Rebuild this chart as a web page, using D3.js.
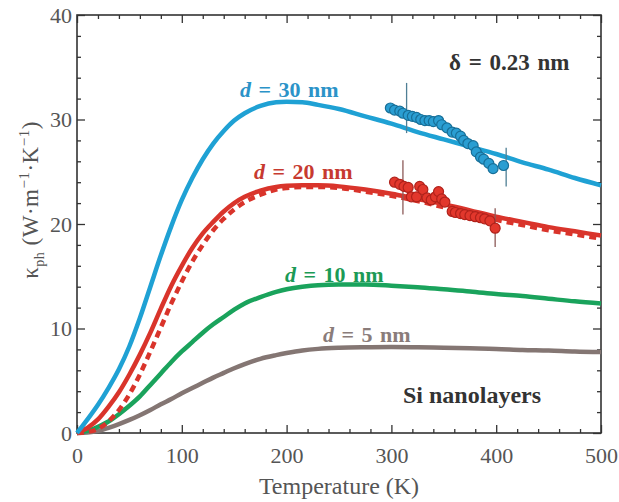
<!DOCTYPE html>
<html>
<head>
<meta charset="utf-8">
<script src="https://cdn.jsdelivr.net/npm/d3@7"></script>
<style>
  body { margin: 0; background: #fff; }
  svg { display: block; }
  text { font-family: "Liberation Serif", "Times New Roman", serif; }
</style>
</head>
<body>
<script>
// temperature grid shared by the model curves (K)
let temps = [0, 10, 20, 30, 40, 50, 60, 70, 80, 90, 100, 110, 120, 130, 140, 150, 160, 175, 190, 200,
    215, 230, 250, 275, 300, 325, 350, 375, 400, 425, 450, 475, 500];

// model curves, kappa_ph (W/m/K)
let kappa30 = [0, 1.3, 2.7, 4.3, 6.1, 8.3, 11.0, 14.0, 17.0, 19.8, 22.3, 24.4, 26.2, 27.7, 28.9, 29.9, 30.6, 31.3, 31.65, 31.7,
    31.65, 31.4, 31.0, 30.3, 29.6, 28.8, 28.1, 27.4, 26.7, 25.9, 25.2, 24.4, 23.7];
let kappa20 = [0, 0.5, 1.3, 2.5, 3.9, 5.6, 7.5, 9.6, 11.9, 14.1, 16.0, 17.7, 19.1, 20.2, 21.2, 22.0, 22.6, 23.2, 23.55, 23.65,
    23.7, 23.7, 23.6, 23.3, 22.9, 22.4, 21.9, 21.3, 20.7, 20.2, 19.7, 19.3, 18.9];
let kappa20dash = [0, 0.1, 0.4, 1.1, 2.2, 3.7, 5.6, 7.8, 10.1, 12.4, 14.5, 16.4, 18.0, 19.4, 20.5, 21.4, 22.1, 22.8, 23.3, 23.45,
    23.55, 23.55, 23.45, 23.1, 22.7, 22.2, 21.6, 21.0, 20.4, 19.9, 19.4, 19.0, 18.6];
let kappa10 = [0, 0.2, 0.6, 1.1, 1.8, 2.6, 3.5, 4.6, 5.7, 6.8, 7.8, 8.7, 9.6, 10.4, 11.1, 11.8, 12.4, 13.0, 13.5, 13.75,
    14.0, 14.15, 14.2, 14.2, 14.1, 13.95, 13.75, 13.55, 13.3, 13.1, 12.85, 12.6, 12.4];
let kappa5 = [0, 0.05, 0.2, 0.5, 0.85, 1.25, 1.7, 2.2, 2.75, 3.25, 3.8, 4.3, 4.8, 5.3, 5.75, 6.2, 6.6, 7.1, 7.45, 7.65,
    7.9, 8.05, 8.15, 8.2, 8.22, 8.2, 8.15, 8.1, 8.05, 7.95, 7.9, 7.8, 7.75];

// measured points
let blueT = [299, 303, 308, 311, 316, 320, 324, 328, 332, 336, 340, 345, 348, 353, 358, 362, 366, 369, 373, 378, 381, 385, 388, 393, 397, 407];
let blueK = [31.1, 30.9, 30.8, 30.6, 30.4, 30.3, 30.2, 30.0, 29.9, 29.9, 29.8, 29.9, 29.5, 29.2, 28.8, 28.7, 28.4, 28.0, 27.7, 27.5, 26.9, 26.4, 26.2, 25.8, 25.3, 25.6];
let redT = [303, 308, 312, 316, 319, 324, 327, 330, 334, 338, 342, 345, 348, 351, 358, 361, 366, 370, 375, 380, 385, 389, 394, 399];
let redK = [24.0, 23.8, 23.6, 23.5, 22.6, 22.6, 23.6, 23.3, 22.5, 22.3, 22.6, 23.1, 22.4, 22.1, 21.2, 21.1, 21.0, 20.9, 20.8, 20.7, 20.6, 20.5, 20.3, 19.6];

// error bars [T, low, high]
let blueErr = [[314.5, 28.7, 33.5], [409.5, 23.6, 27.3]];
let redErr = [[311, 20.9, 26.1], [399, 17.8, 21.5]];

// axis ticks
let xMajor = [0, 100, 200, 300, 400, 500];
let yMajor = [0, 10, 20, 30, 40];

let width = 619, height = 502;
let margin = {left: 77, right: 18, top: 15, bottom: 69};

let svg = d3.select("body").append("svg")
    .attr("width", width)
    .attr("height", height);

let x = d3.scaleLinear().domain([0, 500]).range([margin.left, width - margin.right]);
let y = d3.scaleLinear().domain([0, 40]).range([height - margin.bottom, margin.top]);

let xMinor = d3.range(0, 501, 20).filter(v => v % 100 !== 0);
let yMinor = d3.range(0, 41, 2).filter(v => v % 10 !== 0);

/////////////// axes & frame //////////////////
function styleAxis(g) {
    g.select(".domain").remove();
    g.selectAll("line").attr("stroke", "#333").attr("stroke-width", 1.3);
    g.selectAll("text")
        .attr("fill", "#555")
        .style("font-size", "22px");
}

let x0 = x.range()[0], x1 = x.range()[1], y0 = y.range()[0], y1 = y.range()[1];

svg.append("g").attr("transform", "translate(0," + y0 + ")")
    .call(d3.axisBottom(x).tickValues(xMajor).tickSize(-8).tickPadding(14).tickFormat(d3.format("d")))
    .call(styleAxis);
svg.append("g").attr("transform", "translate(0," + y0 + ")")
    .call(d3.axisBottom(x).tickValues(xMinor).tickSize(-4).tickFormat(""))
    .call(styleAxis);
svg.append("g").attr("transform", "translate(0," + y1 + ")")
    .call(d3.axisTop(x).tickValues(xMajor).tickSize(-8).tickFormat(""))
    .call(styleAxis);
svg.append("g").attr("transform", "translate(0," + y1 + ")")
    .call(d3.axisTop(x).tickValues(xMinor).tickSize(-4).tickFormat(""))
    .call(styleAxis);

svg.append("g").attr("transform", "translate(" + x0 + ",0)")
    .call(d3.axisLeft(y).tickValues(yMajor).tickSize(-8).tickPadding(5).tickFormat(d3.format("d")))
    .call(styleAxis);
svg.append("g").attr("transform", "translate(" + x0 + ",0)")
    .call(d3.axisLeft(y).tickValues(yMinor).tickSize(-4).tickFormat(""))
    .call(styleAxis);
svg.append("g").attr("transform", "translate(" + x1 + ",0)")
    .call(d3.axisRight(y).tickValues(yMajor).tickSize(-8).tickFormat(""))
    .call(styleAxis);
svg.append("g").attr("transform", "translate(" + x1 + ",0)")
    .call(d3.axisRight(y).tickValues(yMinor).tickSize(-4).tickFormat(""))
    .call(styleAxis);

svg.append("rect")
    .attr("x", x0).attr("y", y1)
    .attr("width", x1 - x0).attr("height", y0 - y1)
    .attr("fill", "none")
    .attr("stroke", "#333")
    .attr("stroke-width", 1.6);

/////////////// curves //////////////////
let line = d3.line()
    .x(d => x(d[0]))
    .y(d => y(d[1]))
    .curve(d3.curveMonotoneX);

let curves = [
    {k: kappa5, color: "#847673", dash: null},
    {k: kappa10, color: "#1aa35c", dash: null},
    {k: kappa20dash, color: "#d9342b", dash: "7,5"},
    {k: kappa20, color: "#d9342b", dash: null},
    {k: kappa30, color: "#1fa1d4", dash: null}
];

let plot = svg.append("g");

plot.selectAll("path.curve")
    .data(curves)
    .enter().append("path")
    .attr("class", "curve")
    .attr("d", c => line(temps.map((t, i) => [t, c.k[i]])))
    .attr("fill", "none")
    .attr("stroke", c => c.color)
    .attr("stroke-width", 4.5)
    .attr("stroke-dasharray", c => c.dash);

/////////////// error bars & points //////////////////
function drawErr(err, color) {
    plot.selectAll(null)
        .data(err)
        .enter().append("line")
        .attr("x1", d => x(d[0])).attr("x2", d => x(d[0]))
        .attr("y1", d => y(d[1])).attr("y2", d => y(d[2]))
        .attr("stroke", color)
        .attr("stroke-width", 1.3);
}

function drawPts(ts, ks, fill, stroke) {
    plot.selectAll(null)
        .data(ts.map((t, i) => [t, ks[i]]))
        .enter().append("circle")
        .attr("cx", d => x(d[0]))
        .attr("cy", d => y(d[1]))
        .attr("r", 5)
        .attr("fill", fill)
        .attr("stroke", stroke)
        .attr("stroke-width", 1.2);
}

drawErr(blueErr, "#4f7f95");
drawPts(blueT, blueK, "#2a9ed2", "#176f98");
drawErr(redErr, "#8c5a58");
drawPts(redT, redK, "#e2372c", "#b0221b");

/////////////// labels //////////////////
let labels = [
    {t: "30", x: 240, y: 97, color: "#2b93c8"},
    {t: "20", x: 254, y: 179, color: "#c73a30"},
    {t: "10", x: 285, y: 282, color: "#1c9a56"},
    {t: "5", x: 323, y: 342, color: "#8a7c7a"}
];

labels.forEach(l => {
    let txt = svg.append("text")
        .attr("x", l.x).attr("y", l.y)
        .attr("fill", l.color)
        .style("font-size", "22px")
        .style("font-weight", "bold")
        .attr("word-spacing", "2px");
    txt.append("tspan").style("font-style", "italic").text("d");
    txt.append("tspan").text(" = " + l.t + " nm");
});

svg.append("text")
    .attr("x", 449).attr("y", 70)
    .attr("fill", "#333")
    .style("font-size", "23px")
    .style("font-weight", "bold")
    .attr("word-spacing", "2px")
    .text("δ = 0.23 nm");

svg.append("text")
    .attr("x", 403).attr("y", 403)
    .attr("fill", "#333")
    .style("font-size", "24px")
    .style("font-weight", "bold")
    .text("Si nanolayers");

// axis titles
svg.append("text")
    .attr("x", (x0 + x1) / 2).attr("y", 494)
    .attr("text-anchor", "middle")
    .attr("fill", "#555")
    .style("font-size", "24px")
    .text("Temperature (K)");

let yt = svg.append("text")
    .attr("transform", "translate(38," + 200 + ") rotate(-90)")
    .attr("text-anchor", "middle")
    .attr("fill", "#555")
    .style("font-size", "23px")
    .attr("letter-spacing", "0.5px");
yt.append("tspan").text("κ");
yt.append("tspan").attr("dy", 6).style("font-size", "14px").text("ph");
yt.append("tspan").attr("dy", -6).text(" (W·m");
yt.append("tspan").attr("dy", -9).style("font-size", "15px").text("−1");
yt.append("tspan").attr("dy", 9).text("·K");
yt.append("tspan").attr("dy", -9).style("font-size", "15px").text("−1");
yt.append("tspan").attr("dy", 9).text(")");
</script>
</body>
</html>
